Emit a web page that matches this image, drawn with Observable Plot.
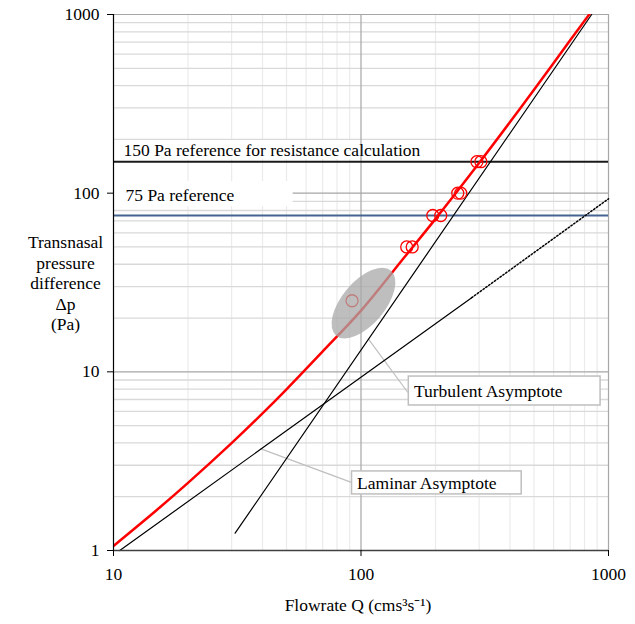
<!DOCTYPE html>
<html><head><meta charset="utf-8">
<script src="https://cdn.jsdelivr.net/npm/d3@7"></script>
<script src="https://cdn.jsdelivr.net/npm/@observablehq/plot@0.6"></script>
<style>body{margin:0;background:#fff}</style>
</head><body><div id="chart"></div>
<script>
// Rohrer curve (Q in cm3/s, dp in Pa)
const curveQ  = [10, 15, 20, 30, 40, 50, 70, 100, 150, 200, 300, 400, 500, 700, 840];
const curveDp = [1.06, 1.69, 2.39, 3.99, 5.85, 7.98, 13.0, 22.0, 43.9, 71.8, 147.6, 250, 379, 717, 1010];
// measured points
const ptsQ  = [92, 153, 161, 195, 210, 246, 253, 294, 305];
const ptsDp = [25, 50, 50, 75, 75, 100, 100, 150, 150];
// asymptotes
const lamQ = [10.6, 280], lamDp = [1, 26];
const lamDotQ = [280, 1000], lamDotDp = [26, 93];
const turbQ = [31, 855], turbDp = [1.25, 1000];
// reference lines
const refDp = [150, 75];
const refLabels = ["150 Pa reference for resistance calculation", "75 Pa reference"];
const refColors = ["#1a1a1a", "#44648f"];
const refBoxQ2 = [186, 53.2], refBoxP1 = [154, 84.2], refBoxP2 = [197, 116];
// callouts
const annoLabels = ["Turbulent Asymptote", "Laminar Asymptote"];
const annoBoxQ1 = [156, 92], annoBoxQ2 = [929, 446];
const annoBoxP1 = [6.48, 2.06], annoBoxP2 = [9.41, 2.77];
const annoTextQ = [163.6, 96.4], annoTextP = [7.76, 2.37];
const leadQ1 = [106.7, 39.2], leadP1 = [15.4, 3.72];
const leadQ2 = [154.7, 92], leadP2 = [7.66, 2.40];
// shaded region centre
const ellQ = [102.8], ellDp = [24.1];
// ticks / grid
const xTicks = [10, 100, 1000];
const yTicks = [1, 10, 100, 1000];
const xMinor = [20,30,40,50,60,70,80,90,200,300,400,500,600,700,800,900];
const yMinor = [2,3,4,5,6,7,8,9,20,30,40,50,60,70,80,90,200,300,400,500,600,700,800,900];
const xTitle = "Flowrate Q (cms³s⁻¹)";
const yTitle = "Transnasal\npressure\ndifference\nΔp\n(Pa)";

const curve = curveQ.map((q, i) => ({q, p: curveDp[i]}));
const pts = ptsQ.map((q, i) => ({q, p: ptsDp[i]}));
const refs = refDp.map((p, i) => ({p, label: refLabels[i], color: refColors[i], q2: refBoxQ2[i], p1: refBoxP1[i], p2: refBoxP2[i]}));
const annos = annoLabels.map((label, i) => ({label, x1: annoBoxQ1[i], x2: annoBoxQ2[i], y1: annoBoxP1[i], y2: annoBoxP2[i],
  tq: annoTextQ[i], tp: annoTextP[i], lq1: leadQ1[i], lp1: leadP1[i], lq2: leadQ2[i], lp2: leadP2[i]}));
const seg = (qs, ps) => qs.map((q, i) => ({q, p: ps[i]}));

const ellipseMark = (index, scales) => {
  const cx = scales.x(ellQ[0]), cy = scales.y(ellDp[0]);
  const e = d3.create("svg:ellipse")
    .attr("cx", cx).attr("cy", cy).attr("rx", 42.5).attr("ry", 21.5)
    .attr("transform", `rotate(-50 ${cx} ${cy})`)
    .attr("fill", "#a8a8a8").attr("fill-opacity", 0.75);
  return e.node();
};

const chart = Plot.plot({
  width: 635, height: 624,
  marginTop: 14, marginBottom: 74, marginLeft: 113, marginRight: 27,
  x: {type: "log", domain: [10, 1000], axis: null},
  y: {type: "log", domain: [1, 1000], axis: null},
  style: {fontFamily: "'Liberation Serif', serif", fontSize: "17.5px", background: "white", color: "black"},
  marks: [
    Plot.ruleX(xMinor, {stroke: "#ebebeb", strokeWidth: 1.2}),
    Plot.ruleY(yMinor, {stroke: "#d9d9d9", strokeWidth: 1.3}),
    Plot.ruleY([10, 100, 1000], {stroke: "#a6a6a6", strokeWidth: 1.2}),
    Plot.rect(refs, {x1: 10, x2: "q2", y1: "p1", y2: "p2", fill: "white"}),
    Plot.ruleX([100, 1000], {stroke: "#a6a6a6", strokeWidth: 1.2}),
    Plot.ruleY(refs, {y: "p", stroke: "color", strokeWidth: 2}),
    Plot.text(refs.slice(0, 1), {y: "p", text: "label", frameAnchor: "left", textAnchor: "start", dx: 10, dy: -11, fill: "black"}),
    Plot.text(refs.slice(1, 2), {y: "p", text: "label", frameAnchor: "left", textAnchor: "start", dx: 12, dy: -20, fill: "black"}),
    Plot.link(annos, {x1: "lq1", y1: "lp1", x2: "lq2", y2: "lp2", stroke: "#bfbfbf", strokeWidth: 1.2}),
    Plot.rect(annos, {x1: "x1", x2: "x2", y1: "y1", y2: "y2", fill: "white", stroke: "#bfbfbf", strokeWidth: 1.5}),
    Plot.text(annos, {x: "tq", y: "tp", text: "label", textAnchor: "start", fill: "black"}),
    Plot.line(seg(lamQ, lamDp), {x: "q", y: "p", stroke: "black", strokeWidth: 1.2}),
    Plot.line(seg(lamDotQ, lamDotDp), {x: "q", y: "p", stroke: "black", strokeWidth: 1.5, strokeDasharray: "1.5,2"}),
    Plot.line(seg(turbQ, turbDp), {x: "q", y: "p", stroke: "black", strokeWidth: 1.2, clip: true}),
    Plot.line(curve, {x: "q", y: "p", stroke: "#ff0000", strokeWidth: 2.5, curve: "catmull-rom", clip: true}),
    Plot.dot(pts, {x: "q", y: "p", r: 6, stroke: "#ff0000", strokeWidth: 1.3, fill: "none"}),
    ellipseMark,
    Plot.ruleX([10], {stroke: "black", strokeWidth: 1.2}),
    Plot.ruleY([1], {stroke: "#404040", strokeWidth: 1.5}),
    Plot.axisY(yTicks, {tickFormat: d => String(d), tickSize: 6, tickPadding: 8, label: null, fontSize: 17.5}),
    Plot.axisX(xTicks, {tickFormat: d => String(d), tickSize: 6, tickPadding: 11, label: null, fontSize: 17.5}),
    Plot.text([yTitle], {frameAnchor: "left", textAnchor: "middle", dx: -48, text: d => d, lineHeight: 1.17, fill: "black"}),
    Plot.text([xTitle], {frameAnchor: "bottom", dy: 60, dx: -3, text: d => d, fill: "black"})
  ]
});
document.getElementById("chart").appendChild(chart);
</script>
</body></html>
